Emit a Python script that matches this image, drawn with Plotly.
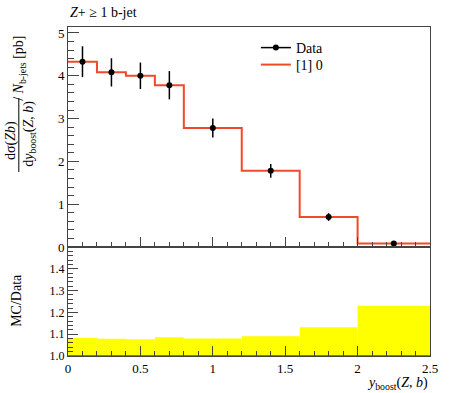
import plotly.graph_objects as go

# ---- data ----
bin_edges = [0.0, 0.2, 0.4, 0.6, 0.8, 1.2, 1.6, 2.0, 2.5]
data_vals = [4.33, 4.08, 4.00, 3.78, 2.78, 1.78, 0.70, 0.08]
data_errs = [0.36, 0.33, 0.31, 0.33, 0.22, 0.16, 0.09, 0.018]
mc_vals = [4.33, 4.08, 4.00, 3.78, 2.78, 1.78, 0.70, 0.08]
ratio_err = [0.083, 0.079, 0.077, 0.086, 0.080, 0.091, 0.132, 0.230]
x_tick_vals = [0, 0.5, 1, 1.5, 2, 2.5]
x_tick_text = ["0", "0.5", "1", "1.5", "2", "2.5"]
y_tick_vals = [0, 1, 2, 3, 4, 5]
r_tick_vals = [1.0, 1.1, 1.2, 1.3, 1.4]

centers = [(a + b) / 2 for a, b in zip(bin_edges[:-1], bin_edges[1:])]
widths = [b - a for a, b in zip(bin_edges[:-1], bin_edges[1:])]
ratio_mc = [m / d for m, d in zip(mc_vals, data_vals)]

W, H = 450, 393
PX0, PX1, PY0, PY1, PSPLIT = 68, 436, 27, 356, 247   # plot area in window px
L, R, T, B = PX0, W - PX1, PY0, H - PY1
PW, PH = W - L - R, H - T - B
split = (PY1 - PSPLIT) / PH

def xp(wx):
    return (wx - L) / PW

def yp(wy):
    return (H - B - wy) / PH

FONT = "Liberation Serif"
RED = "#EE4B2B"
AX = "#444444"

fig = go.Figure()

# main panel: MC histogram
fig.add_trace(go.Scatter(
    x=bin_edges, y=mc_vals + [mc_vals[-1]], mode="lines", line_shape="hv",
    line=dict(color=RED, width=2), xaxis="x", yaxis="y", showlegend=False))
# data points
fig.add_trace(go.Scatter(
    x=centers, y=data_vals, mode="markers",
    marker=dict(color="black", size=6),
    error_y=dict(type="data", array=data_errs, color="black", thickness=1.5, width=0),
    xaxis="x", yaxis="y", showlegend=False))
# legend entries
fig.add_trace(go.Scatter(x=[None], y=[None], mode="lines+markers",
                         line=dict(color="black", width=1.5),
                         marker=dict(color="black", size=6), name="Data",
                         xaxis="x", yaxis="y", legend="legend"))
fig.add_trace(go.Scatter(x=[None], y=[None], mode="lines",
                         line=dict(color=RED, width=2), name="[1] 0",
                         xaxis="x", yaxis="y", legend="legend2"))

# ratio panel: yellow data-uncertainty band
fig.add_trace(go.Bar(
    x=centers, y=[2 * e for e in ratio_err], base=[1 - e for e in ratio_err],
    width=widths, marker=dict(color="#FFFF00", line=dict(width=0)),
    xaxis="x2", yaxis="y2", showlegend=False))
fig.add_trace(go.Scatter(
    x=bin_edges, y=ratio_mc + [ratio_mc[-1]], mode="lines", line_shape="hv",
    line=dict(color=RED, width=2), xaxis="x2", yaxis="y2", showlegend=False))

common_x = dict(range=[0, 2.5], showgrid=False, zeroline=False, showline=True,
                linecolor=AX, linewidth=1, mirror=True,
                ticks="inside", ticklen=10, tickcolor=AX,
                tickvals=x_tick_vals,
                minor=dict(dtick=0.1, ticks="inside", ticklen=5, tickcolor=AX, showgrid=False))

leg_common = dict(xanchor="left", yanchor="middle", bgcolor="rgba(0,0,0,0)",
                  font=dict(size=14), itemwidth=30)

fig.update_layout(
    width=W, height=H,
    margin=dict(l=L, r=R, t=T, b=B),
    paper_bgcolor="white", plot_bgcolor="white",
    font=dict(family=FONT, size=13, color="black"),
    barmode="overlay",
    xaxis=dict(**common_x, domain=[0, 1], anchor="y", showticklabels=False),
    yaxis=dict(domain=[split, 1], range=[0, 5.14], anchor="x", showgrid=False,
               zeroline=False, showline=True, linecolor=AX, linewidth=1, mirror=True,
               ticks="inside", ticklen=11, tickcolor=AX, tickvals=y_tick_vals,
               minor=dict(dtick=0.2, ticks="inside", ticklen=6, tickcolor=AX, showgrid=False),
               tickfont=dict(size=13)),
    xaxis2=dict(**common_x, domain=[0, 1], anchor="y2", ticktext=x_tick_text,
                tickfont=dict(size=13)),
    yaxis2=dict(domain=[0, split], range=[1.0, 1.5], anchor="x2", showgrid=False,
                zeroline=False, showline=True, linecolor=AX, linewidth=1, mirror=True,
                ticks="inside", ticklen=10, tickcolor=AX, tickvals=r_tick_vals,
                tickformat=".1f",
                minor=dict(dtick=0.02, ticks="inside", ticklen=5, tickcolor=AX, showgrid=False),
                tickfont=dict(size=12)),
    legend=dict(x=xp(259), y=yp(48), **leg_common),
    legend2=dict(x=xp(259), y=yp(65), **leg_common),
    showlegend=True,
)

ann = [
    dict(text="<i>Z</i>+ ≥ 1 b-jet", x=xp(68), y=yp(13), xanchor="left", yanchor="middle",
         font=dict(size=14)),
    dict(text="<i>y</i><sub>boost</sub>(<i>Z</i>, <i>b</i>)", x=xp(436), y=yp(383),
         xanchor="right", yanchor="middle", font=dict(size=14)),
    dict(text="MC/Data", x=xp(15), y=yp(300), textangle=-90, xanchor="center",
         yanchor="middle", font=dict(size=14)),
    dict(text="dσ(<i>Zb</i>)", x=xp(10), y=yp(140), textangle=-90, xanchor="center",
         yanchor="middle", font=dict(size=14)),
    dict(text="d<i>y</i><sub>boost</sub>(<i>Z</i>, <i>b</i>)", x=xp(28), y=yp(134),
         textangle=-90, xanchor="center", yanchor="middle", font=dict(size=14)),
    dict(text="/ <i>N</i><sub>b-jets</sub> [pb]", x=xp(18), y=yp(68), textangle=-90,
         xanchor="center", yanchor="middle", font=dict(size=14)),
]
for a in ann:
    a.update(xref="paper", yref="paper", showarrow=False)
fig.update_layout(annotations=ann)

fig.add_shape(type="line", xref="paper", yref="paper", x0=xp(18), x1=xp(18),
              y0=yp(98), y1=yp(172), line=dict(color="black", width=1))

fig.write_html("out.html", config={"displayModeBar": False},
               post_script="document.body.style.margin='0';document.body.style.padding='0';")
